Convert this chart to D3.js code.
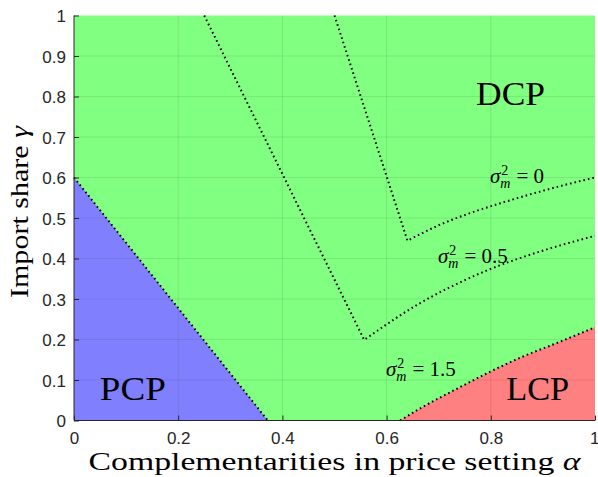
<!DOCTYPE html>
<html>
<head>
<meta charset="utf-8">
<script src="https://cdn.jsdelivr.net/npm/d3@7/dist/d3.min.js"></script>
<style>
  body { margin: 0; background: #fff; }
  svg { display: block; }
</style>
</head>
<body>
<svg id="chart" width="598" height="477"></svg>
<script>
// ---- data ----
const xTicks = [0, 0.2, 0.4, 0.6, 0.8, 1];
const yTicks = [0, 0.1, 0.2, 0.3, 0.4, 0.5, 0.6, 0.7, 0.8, 0.9, 1];

// PCP boundary (straight line)
const pcpAlpha = [0, 0.372];
const pcpGamma = [0.6, 0];

// LCP boundary (sigma_m^2 = 1.5)
const lcpAlpha = [0.626, 0.670, 0.730, 0.798, 0.860, 0.926, 1.0];
const lcpGamma = [0, 0.034, 0.075, 0.120, 0.157, 0.191, 0.230];

// sigma_m^2 = 0 contour (first point = top of the descending leg, second = kink)
const s0Alpha = [0.5, 0.640, 0.700, 0.760, 0.820, 0.880, 0.940, 1.0];
const s0Gamma = [1.0, 0.444, 0.482, 0.512, 0.537, 0.560, 0.581, 0.600];

// sigma_m^2 = 0.5 contour
const s05Alpha = [0.25, 0.557, 0.658, 0.786, 0.914, 1.0];
const s05Gamma = [1.0, 0.199, 0.285, 0.367, 0.425, 0.456];

const regionNames = ["DCP", "PCP", "LCP"];
const sigmaValues = ["0", "0.5", "1.5"];

// ---- layout ----
const svg = d3.select("#chart");
const x = d3.scaleLinear().domain([0, 1]).range([74, 595]);
const y = d3.scaleLinear().domain([0, 1]).range([420.5, 15.5]);

const green = "#80ff80", blue = "#8080ff", red = "#ff8080";
const axisCol = "#262626";

// background DCP region
svg.append("rect")
  .attr("x", x(0)).attr("y", y(1))
  .attr("width", x(1) - x(0)).attr("height", y(0) - y(1))
  .attr("fill", green);

const zip = (a, g) => a.map((v, i) => [v, g[i]]);
const line = d3.line().x(d => x(d[0])).y(d => y(d[1]));
const smooth = d3.line().x(d => x(d[0])).y(d => y(d[1])).curve(d3.curveMonotoneX);

// PCP region
const pcpPts = [[0, 0]].concat(zip(pcpAlpha, pcpGamma));
svg.append("path").attr("d", line(pcpPts) + "Z").attr("fill", blue);

// LCP region
const lcpPts = zip(lcpAlpha, lcpGamma);
svg.append("path").attr("d", smooth(lcpPts) + `L${x(1)},${y(0)}Z`).attr("fill", red);

// grid
const grid = svg.append("g").attr("stroke", "rgba(38,38,38,0.10)").attr("stroke-width", 1);
xTicks.slice(1, -1).forEach(t => grid.append("line")
  .attr("x1", x(t)).attr("x2", x(t)).attr("y1", y(0)).attr("y2", y(1)));
yTicks.slice(1, -1).forEach(t => grid.append("line")
  .attr("y1", y(t)).attr("y2", y(t)).attr("x1", x(0)).attr("x2", x(1)));

// dotted boundaries
const dotted = (d) => svg.append("path")
  .attr("d", d)
  .attr("fill", "none")
  .attr("stroke", "#000")
  .attr("stroke-width", 2)
  .attr("stroke-dasharray", "1.6,3");
dotted(line(zip(pcpAlpha, pcpGamma)));
dotted(smooth(lcpPts));
// contours: straight descending leg + smooth rising branch
[[s0Alpha, s0Gamma], [s05Alpha, s05Gamma]].forEach(([a, g]) => {
  const pts = zip(a, g);
  dotted(line(pts.slice(0, 2)) + smooth(pts.slice(1)).replace(/^M[^CL]*/, ""));
});

// axes
const xAxis = d3.axisBottom(x).tickValues(xTicks).tickSize(-5).tickPadding(10)
  .tickFormat(d => d3.format("")(d));
const yAxis = d3.axisLeft(y).tickValues(yTicks).tickSize(-5).tickPadding(8)
  .tickFormat(d => d3.format("")(d));

const gx = svg.append("g").attr("transform", `translate(0,${y(0)})`).call(xAxis);
const gy = svg.append("g").attr("transform", `translate(${x(0)},0)`).call(yAxis);
[gx, gy].forEach(g => {
  g.select(".domain").attr("stroke", axisCol).attr("stroke-width", 1);
  g.selectAll(".tick line").attr("stroke", axisCol).attr("stroke-width", 1);
  g.selectAll(".tick text")
    .attr("fill", axisCol)
    .style("font-family", "'Liberation Sans', Arial, sans-serif")
    .style("font-size", "17px");
});
gx.select(".domain").attr("d", `M${x(0)},0H${x(1)}`);
gy.select(".domain").attr("d", `M0,${y(0)}V${y(1)}`);
gx.selectAll(".tick text").attr("y", 11).attr("dy", "0.71em");
gx.selectAll(".tick text").filter(d => d === 1).attr("text-anchor", "end").attr("dx", 4);
gy.selectAll(".tick text").attr("x", -8).attr("dy", "0.36em");

// axis titles
const serif = "'Liberation Serif', 'DejaVu Serif', serif";
const xt = svg.append("text")
  .attr("x", (x(0) + x(1)) / 2).attr("y", 470)
  .attr("text-anchor", "middle")
  .attr("textLength", 492).attr("lengthAdjust", "spacingAndGlyphs")
  .style("font-family", serif).style("font-size", "25px").attr("fill", "#000");
xt.append("tspan").text("Complementarities in price setting ");
xt.append("tspan").style("font-style", "italic").text("α");

const yt = svg.append("text")
  .attr("transform", `translate(28,${(y(0) + y(1)) / 2 - 6}) rotate(-90)`)
  .attr("text-anchor", "middle")
  .attr("textLength", 172).attr("lengthAdjust", "spacingAndGlyphs")
  .style("font-family", serif).style("font-size", "25px").attr("fill", "#000");
yt.append("tspan").text("Import share ");
yt.append("tspan").style("font-style", "italic").text("γ");

// region labels
const regionPos = [[0.838, 0.78], [0.113, 0.05], [0.89, 0.05]];
const regionLen = [69, 66, 63];
regionNames.forEach((n, i) => {
  svg.append("text")
    .attr("x", x(regionPos[i][0])).attr("y", y(regionPos[i][1]))
    .attr("text-anchor", "middle")
    .attr("textLength", regionLen[i]).attr("lengthAdjust", "spacingAndGlyphs")
    .style("font-family", serif).style("font-size", "34px").attr("fill", "#000")
    .text(n);
});

// sigma labels (single text element with tspans)
const sigmaPos = [[490, 183], [438, 263], [386, 376]];
sigmaValues.forEach((v, i) => {
  const [px, py] = sigmaPos[i];
  const t = svg.append("text").attr("x", px).attr("y", py)
    .style("font-family", serif).attr("fill", "#000").style("font-size", "21px");
  t.append("tspan").style("font-style", "italic").text("σ");
  t.append("tspan").attr("dy", -8).attr("dx", 1).style("font-size", "14px").text("2");
  t.append("tspan").attr("dy", 13).attr("dx", -8).style("font-size", "14px")
    .style("font-style", "italic").text("m");
  t.append("tspan").attr("dy", -5).attr("dx", 6).text("= " + v);
});
</script>
</body>
</html>
